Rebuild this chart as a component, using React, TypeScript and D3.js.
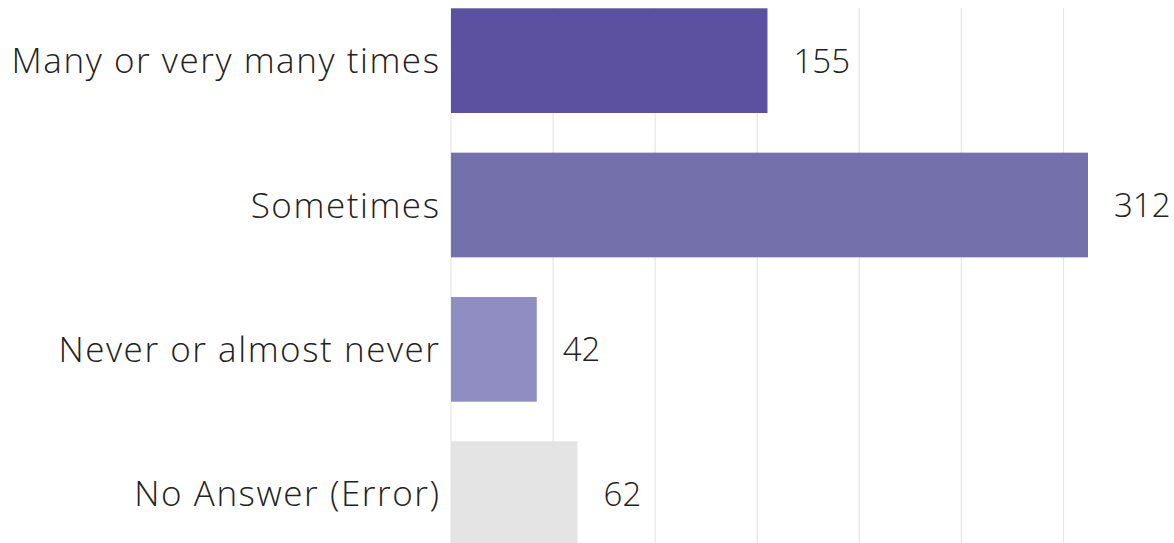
import React from "react";
import * as d3 from "d3";

const categories = ["Many or very many times", "Sometimes", "Never or almost never", "No Answer (Error)"];
const values = [155, 312, 42, 62];
const colors = ["#5c50a0", "#7370ab", "#8f8dc1", "#e4e4e4"];
const ticks = [0, 50, 100, 150, 200, 250, 300];

export default function App() {
  const W = 1174, H = 543;
  const x = d3.scaleLinear().domain([0, 300]).range([451, 1063.5]);
  const y = d3.scaleBand<string>().domain(categories).range([8.3, 546.05]).paddingInner(0.2747).paddingOuter(0);
  const font = "'Open Sans', sans-serif";
  return (
    <svg width={W} height={H} style={{ position: "absolute", left: 0, top: 0 }}>
      {ticks.map((t) => (
        <line key={t} x1={x(t)} x2={x(t)} y1={8} y2={H} stroke="#e6e6e6" strokeWidth={1.2} />
      ))}
      {categories.map((c, i) => {
        const yy = y(c)!;
        const bw = y.bandwidth();
        return (
          <g key={c}>
            <rect x={x(0)} y={yy} width={x(values[i]) - x(0)} height={bw} fill={colors[i]} />
            <text x={440.5} y={yy + bw / 2} dy="0.36em" textAnchor="end" fontFamily={font} fontWeight={300} fontSize={35} letterSpacing={1.55} fill="#222">
              {c}
            </text>
            <text x={x(values[i]) + 26} y={yy + bw / 2} dy="0.36em" textAnchor="start" fontFamily={font} fontWeight={300} fontSize={33} fill="#222">
              {values[i]}
            </text>
          </g>
        );
      })}
    </svg>
  );
}
